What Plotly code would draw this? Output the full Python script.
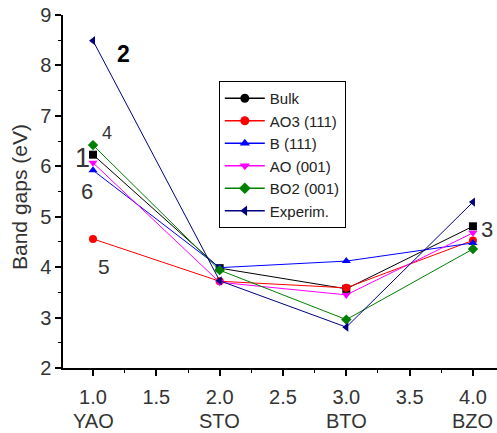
import plotly.graph_objects as go

x_pos = [1, 2, 3, 4]
materials = ["YAO", "STO", "BTO", "BZO"]

bulk = [6.23, 3.98, 3.57, 4.81]
ao3_111 = [4.56, 3.72, 3.59, 4.53]
b_111 = [5.92, 3.99, 4.12, 4.48]
ao_001 = [6.07, 3.70, 3.45, 4.68]
bo2_001 = [6.42, 3.94, 2.96, 4.36]
experim = [8.49, 3.73, 2.81, 5.29]

series_names = ["Bulk", "AO3 (111)", "B (111)", "AO (001)", "BO2 (001)", "Experim."]
series_values = [bulk, ao3_111, b_111, ao_001, bo2_001, experim]
colors = ["#000000", "#FF0000", "#0000FF", "#FF00FF", "#008000", "#000080"]
data_symbols = ["square", "circle", "triangle-up", "triangle-down", "diamond", "triangle-left"]
legend_symbols = ["circle", "circle", "triangle-up", "triangle-down", "diamond", "triangle-left"]

x_tickvals = [1.0, 1.5, 2.0, 2.5, 3.0, 3.5, 4.0]
x_ticktext = ["1.0", "1.5", "2.0", "2.5", "3.0", "3.5", "4.0"]

y_title = "Band gaps (eV)"

labels = ["1", "2", "3", "4", "5", "6"]
label_x = [0.913, 1.237, 4.11, 1.11, 1.087, 0.953]
label_y = [6.17, 8.22, 4.74, 6.67, 4.01, 5.50]
label_size = [27, 23, 22, 18, 21, 22]
label_bold = [False, True, False, False, False, False]

FONT = "Liberation Sans, Arial, sans-serif"
fig = go.Figure()

for name, vals, c, s in zip(series_names, series_values, colors, data_symbols):
    fig.add_trace(go.Scatter(
        x=x_pos, y=vals, mode="lines+markers", name=name, showlegend=False,
        line=dict(color=c, width=1), marker=dict(symbol=s, size=8, color=c),
    ))
for name, c, s in zip(series_names, colors, legend_symbols):
    fig.add_trace(go.Scatter(
        x=[None], y=[None], mode="lines+markers", name=name,
        line=dict(color=c, width=1.5), marker=dict(symbol=s, size=9, color=c),
    ))

for t, lx, ly, sz, b in zip(labels, label_x, label_y, label_size, label_bold):
    fig.add_annotation(
        x=lx, y=ly, text=f"<b>{t}</b>" if b else t, showarrow=False,
        font=dict(size=sz, color="#000000" if b else "#333333", family=FONT),
    )

for xv, m in zip(x_pos, materials):
    fig.add_annotation(
        x=xv, xref="x", y=0, yref="paper", yanchor="middle", yshift=-53,
        text=m, showarrow=False,
        font=dict(size=20, color="#333333", family=FONT),
    )

fig.add_annotation(
    x=0, xref="paper", xanchor="center", xshift=-43.5,
    y=0.483, yref="paper", yanchor="middle",
    text=y_title, textangle=-90, showarrow=False,
    font=dict(size=21, color="#333333", family=FONT),
)

fig.update_layout(
    width=497, height=433,
    margin=dict(l=63, r=0, t=15, b=65, autoexpand=False),
    paper_bgcolor="white", plot_bgcolor="white",
    font=dict(family=FONT, color="#333333"),
    legend=dict(
        x=0.359, y=0.813, xanchor="left", yanchor="top",
        bordercolor="black", borderwidth=1, bgcolor="white",
        font=dict(size=15, color="#222222", family=FONT),
        itemwidth=40, tracegroupgap=0,
    ),
)
fig.update_xaxes(
    range=[0.763, 4.19], tickvals=x_tickvals, ticktext=x_ticktext,
    showline=True, linecolor="black", linewidth=1.5,
    ticks="outside", ticklen=6, tickwidth=1.5, tickcolor="black",
    minor=dict(dtick=0.25, ticks="outside", ticklen=3, tickcolor="black", tickwidth=1),
    showgrid=False, zeroline=False, automargin=False, ticklabelstandoff=4,
    tickfont=dict(size=20, color="#333333", family=FONT),
)
fig.update_yaxes(
    range=[2, 9], dtick=1, tick0=2,
    showline=True, linecolor="black", linewidth=1.5,
    ticks="outside", ticklen=6, tickwidth=1.5, tickcolor="black",
    minor=dict(dtick=0.5, ticks="outside", ticklen=3, tickcolor="black", tickwidth=1),
    showgrid=False, zeroline=False, automargin=False,
    tickfont=dict(size=20, color="#333333", family=FONT),
)

fig.write_html(
    "out.html",
    config={"displayModeBar": False},
    post_script="document.body.style.margin='0';document.body.style.overflow='hidden';",
)
